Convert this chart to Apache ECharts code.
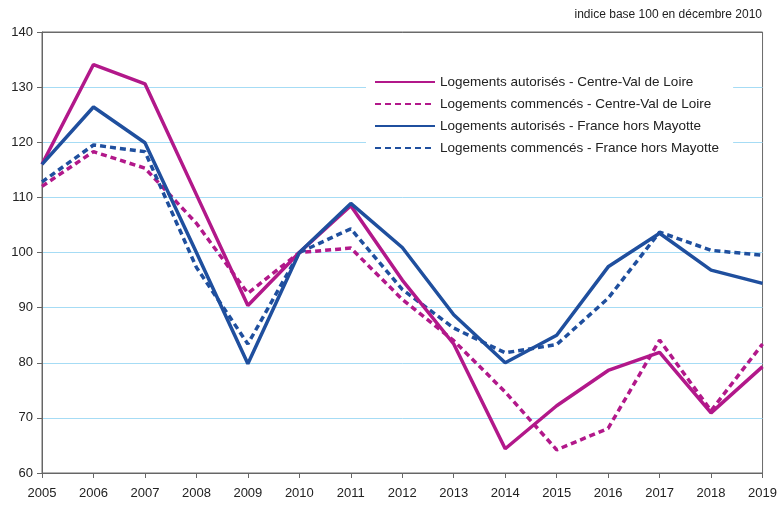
<!DOCTYPE html>
<html><head><meta charset="utf-8">
<script src="https://cdn.jsdelivr.net/npm/echarts@6/dist/echarts.min.js"></script>
<style>html,body{margin:0;padding:0;background:#fff}#c{width:780px;height:506px}</style>
</head><body><div id="c"></div>
<script>
const years = ['2005','2006','2007','2008','2009','2010','2011','2012','2013','2014','2015','2016','2017','2018','2019'];
const cvlAutorises = [116, 134.1, 130.6, 110.5, 90.4, 100, 108.5, 95, 83.4, 64.4, 72.2, 78.6, 81.9, 70.9, 79.3];
const cvlCommences = [112, 118.3, 115.3, 105.3, 92.6, 100, 100.8, 91.5, 84, 74.7, 64.2, 68.1, 84.1, 71.3, 83.4];
const frAutorises = [116, 126.4, 119.9, 100, 79.8, 100, 108.9, 100.9, 88.7, 80, 85, 97.4, 103.5, 96.8, 94.4];
const frCommences = [112.8, 119.5, 118.3, 97.3, 83.4, 100, 104.3, 93.3, 86.3, 81.8, 83.3, 91.7, 103.7, 100.4, 99.5];
const names = ['Logements autorisés - Centre-Val de Loire','Logements commencés - Centre-Val de Loire','Logements autorisés - France hors Mayotte','Logements commencés - France hors Mayotte'];
const MAG = '#b2188a', BLUE = '#1f4f9e';
const font = 'Liberation Sans, Arial, sans-serif';
const GRIDC = '#a6dcf5';
function s(name, data, color, dashed){
  return {name, type:'line', data, symbol:'none', smooth:false,
    lineStyle:{color, width:3.5, type: dashed ? [6,4] : 'solid'},
    itemStyle:{color}, z: dashed ? 2 : 3};
}
const chart = echarts.init(document.getElementById('c'));
chart.setOption({
  animation:false,
  backgroundColor:'#fff',
  textStyle:{fontFamily:font},
  title:{text:'indice base 100 en décembre 2010', right:13, top:4,
    textStyle:{fontSize:12, fontWeight:'normal', color:'#222', fontFamily:font}},
  grid:{left:42, right:15, top:32, bottom:33, show:true, borderColor:'#6a6a6a', borderWidth:1},
  legend:{orient:'vertical', left:366, top:69, backgroundColor:'#fff', padding:[6,14,14,8],
    itemWidth:60, itemHeight:4, itemGap:8,
    itemStyle:{opacity:0},
    textStyle:{fontSize:13.5, color:'#222', fontFamily:font},
    data:names},
  xAxis:{type:'category', data:years, boundaryGap:false,
    axisLine:{lineStyle:{color:'#666', width:1}},
    axisTick:{show:true, length:5, lineStyle:{color:'#666'}},
    axisLabel:{fontSize:13, color:'#222', margin:14, fontFamily:font},
    splitLine:{show:false}},
  yAxis:{type:'value', min:60, max:140, interval:10,
    axisLine:{show:true, lineStyle:{color:'#666'}},
    axisTick:{show:true, length:5, lineStyle:{color:'#666'}},
    axisLabel:{fontSize:13, color:'#222', margin:9, fontFamily:font},
    splitLine:{show:true, lineStyle:{color:[GRIDC,GRIDC,GRIDC,GRIDC,GRIDC,GRIDC,GRIDC,GRIDC,'#6a6a6a'], width:1}}},
  series:[
    s(names[0], cvlAutorises, MAG, false),
    s(names[1], cvlCommences, MAG, true),
    s(names[2], frAutorises, BLUE, false),
    s(names[3], frCommences, BLUE, true)
  ]
});
</script></body></html>
